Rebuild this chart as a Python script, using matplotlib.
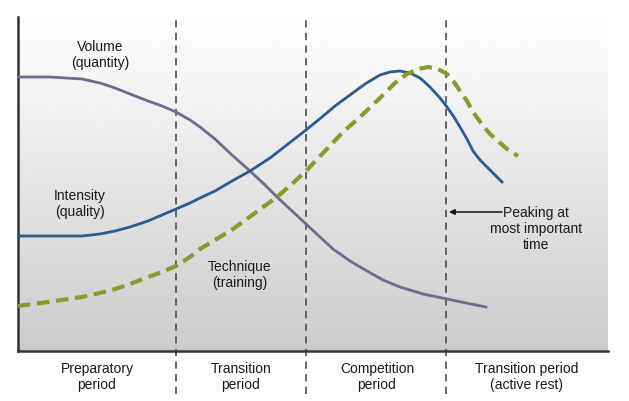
import numpy as np
import matplotlib as mpl
mpl.use('Agg')
import matplotlib.pyplot as plt

plt.rcParams['font.family'] = ['Liberation Sans', 'DejaVu Sans']

# curves (x: time through the season, y: relative level)
volume_x = [0, 32, 64, 82, 97, 112, 130, 144, 158, 172, 182, 197, 214, 232, 246,
            259, 274, 288, 302, 315, 332, 349, 365, 382, 405, 429, 448, 468]
volume_y = [274, 274, 272, 268, 263, 257, 250, 245, 239, 231, 224, 212, 196, 180, 167,
            154, 140, 127, 114, 102, 90, 80, 71, 64, 57, 52, 48, 44]

intensity_x = [0, 32, 64, 82, 97, 112, 130, 144, 158, 172, 182, 197, 214, 232, 252,
               270, 288, 304, 317, 332, 347, 362, 372, 382, 392, 402, 412, 422, 429,
               436, 442, 449, 455, 462, 469, 477, 484]
intensity_y = [115, 115, 115, 117, 120, 124, 130, 136, 142, 148, 153, 160, 170, 180, 193,
               207, 221, 234, 245, 256, 267, 276, 279, 280, 278, 273, 264, 253, 244,
               234, 224, 212, 200, 191, 184, 176, 169]

technique_x = [0, 30, 64, 82, 97, 112, 130, 144, 158, 172, 182, 197, 215, 237, 259,
               274, 288, 307, 325, 342, 362, 377, 389, 400, 410, 420, 429, 436, 442,
               449, 455, 463, 472, 481, 489, 500]
technique_y = [45, 49, 54, 58, 62, 67, 74, 79, 85, 94, 102, 111, 122, 138, 154,
               167, 180, 200, 219, 234, 253, 268, 277, 282, 284, 282, 277, 269, 260,
               250, 239, 228, 217, 209, 202, 195]

period_bounds = [158, 288, 428]
period_labels = ['Preparatory\nperiod', 'Transition\nperiod',
                 'Competition\nperiod', 'Transition period\n(active rest)']
period_centers = [79, 223, 359, 509]

xmax, ymax = 590, 334

fig = plt.figure(figsize=(6.29, 4.02), dpi=100)
ax = fig.add_axes([18 / 629, 50 / 402, 590 / 629, 334 / 402])
ax.set_xlim(0, xmax)
ax.set_ylim(0, ymax)

# soft gray gradient behind the plot
grad = np.linspace(0.80, 0.995, 256).reshape(-1, 1)
ax.imshow(grad, extent=[0, xmax, 0, ymax], origin='lower', cmap='gray',
          vmin=0, vmax=1, aspect='auto', zorder=0)

for b in period_bounds:
    ax.plot([b, b], [-43, ymax - 2], color='#5a5a5a', lw=1.3,
            ls=(0, (4, 3)), clip_on=False, zorder=2)

ax.plot(volume_x, volume_y, color='#76688a', lw=2, zorder=3,
        solid_joinstyle='round')
ax.plot(intensity_x, intensity_y, color='#2e5a8e', lw=2, zorder=3,
        solid_joinstyle='round')
ax.plot(technique_x, technique_y, color='#8a9a2e', lw=3,
        ls=(0, (3, 1.6)), zorder=3, dash_joinstyle='round')

txt = dict(ha='center', va='center', fontsize=10, color='#1a1a1a', linespacing=1.15)
ax.text(82, 297, 'Volume\n(quantity)', **txt)
ax.text(62, 148, 'Intensity\n(quality)', **txt)
ax.text(222, 77, 'Technique\n(training)', **txt)
ax.text(518, 123, 'Peaking at\nmost important\ntime', **txt)
ax.annotate('', xy=(431, 139), xytext=(484, 139),
            arrowprops=dict(arrowstyle='-|>', color='#111111', lw=1.1,
                            mutation_scale=8, shrinkA=0, shrinkB=0))

for c, lab in zip(period_centers, period_labels):
    ax.text(c, -25, lab, clip_on=False, **txt)

for s in ['top', 'right']:
    ax.spines[s].set_visible(False)
for s in ['left', 'bottom']:
    ax.spines[s].set_color('#333333')
    ax.spines[s].set_linewidth(1.8)
ax.set_xticks([])
ax.set_yticks([])

plt.savefig('out.png', dpi=100)
plt.close('all')
